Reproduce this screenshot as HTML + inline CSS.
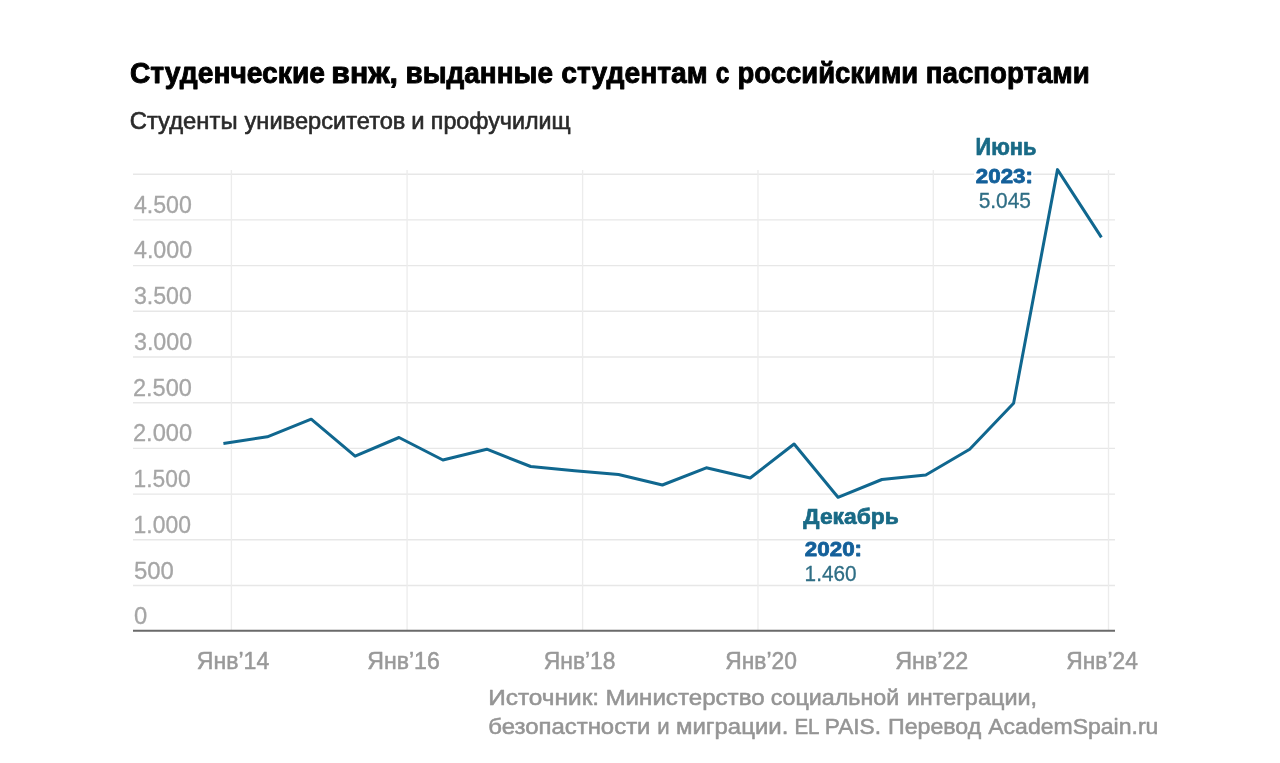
<!DOCTYPE html>
<html lang="ru">
<head>
<meta charset="utf-8">
<title>Студенческие внж, выданные студентам с российскими паспортами</title>
<style>
html,body{margin:0;padding:0;background:#fff;}
body{width:1280px;height:763px;overflow:hidden;font-family:"Liberation Sans",sans-serif;}
svg{display:block;}
text{font-family:"Liberation Sans",sans-serif;stroke-linejoin:round;}
.grid line{stroke:#e7e7e7;stroke-width:1.4;}
.grid line.v{stroke:#ececec;stroke-width:1.3;}
.ylab text{fill:#a6a6a6;stroke:#a6a6a6;stroke-width:0.3px;}
.xlab text{fill:#999;stroke:#999;stroke-width:0.5px;}
.src text{fill:#959595;stroke:#959595;stroke-width:0.55px;}
</style>
</head>
<body>
<svg width="1280" height="763" viewBox="0 0 1280 763">
<rect width="1280" height="763" fill="#fff"/>
<text y="82.5" font-size="28.6" font-weight="700" fill="#000" stroke="#000" stroke-width="0.9"><tspan x="129.96" textLength="194.98" lengthAdjust="spacingAndGlyphs">Студенческие</tspan> <tspan x="331.33" textLength="66.71" lengthAdjust="spacingAndGlyphs">внж,</tspan> <tspan x="405.50" textLength="147.44" lengthAdjust="spacingAndGlyphs">выданные</tspan> <tspan x="561.21" textLength="146.48" lengthAdjust="spacingAndGlyphs">студентам</tspan> <tspan x="715.84" textLength="13.62" lengthAdjust="spacingAndGlyphs">с</tspan> <tspan x="737.49" textLength="180.78" lengthAdjust="spacingAndGlyphs">российскими</tspan> <tspan x="925.81" textLength="164.06" lengthAdjust="spacingAndGlyphs">паспортами</tspan></text>
<text y="129.4" font-size="23" fill="#2a2a2a" stroke="#2a2a2a" stroke-width="0.6"><tspan x="129.76" textLength="107.77" lengthAdjust="spacingAndGlyphs">Студенты</tspan> <tspan x="244.55" textLength="160.87" lengthAdjust="spacingAndGlyphs">университетов</tspan> <tspan x="411.26" textLength="13.31" lengthAdjust="spacingAndGlyphs">и</tspan> <tspan x="430.79" textLength="139.83" lengthAdjust="spacingAndGlyphs">профучилищ</tspan></text>
<g class="grid"><line x1="133" x2="1115" y1="174.2" y2="174.2"/><line x1="133" x2="1115" y1="219.9" y2="219.9"/><line x1="133" x2="1115" y1="265.6" y2="265.6"/><line x1="133" x2="1115" y1="311.3" y2="311.3"/><line x1="133" x2="1115" y1="357.0" y2="357.0"/><line x1="133" x2="1115" y1="402.7" y2="402.7"/><line x1="133" x2="1115" y1="448.4" y2="448.4"/><line x1="133" x2="1115" y1="494.1" y2="494.1"/><line x1="133" x2="1115" y1="539.8" y2="539.8"/><line x1="133" x2="1115" y1="585.5" y2="585.5"/><line class="v" x1="231.4" x2="231.4" y1="170" y2="631"/><line class="v" x1="407.1" x2="407.1" y1="170" y2="631"/><line class="v" x1="582.6" x2="582.6" y1="170" y2="631"/><line class="v" x1="758.0" x2="758.0" y1="170" y2="631"/><line class="v" x1="933.3" x2="933.3" y1="170" y2="631"/><line class="v" x1="1108.5" x2="1108.5" y1="170" y2="631"/></g>
<g class="ylab"><text x="133.95" y="212.9" font-size="24" textLength="57.94" lengthAdjust="spacingAndGlyphs">4.500</text><text x="133.95" y="257.8" font-size="24" textLength="58.24" lengthAdjust="spacingAndGlyphs">4.000</text><text x="133.95" y="304.3" font-size="24" textLength="57.94" lengthAdjust="spacingAndGlyphs">3.500</text><text x="133.95" y="350.0" font-size="24" textLength="58.24" lengthAdjust="spacingAndGlyphs">3.000</text><text x="132.97" y="395.7" font-size="24" textLength="58.92" lengthAdjust="spacingAndGlyphs">2.500</text><text x="132.96" y="441.4" font-size="24" textLength="59.23" lengthAdjust="spacingAndGlyphs">2.000</text><text x="133.60" y="487.1" font-size="24" textLength="56.98" lengthAdjust="spacingAndGlyphs">1.500</text><text x="133.60" y="532.8" font-size="24" textLength="57.29" lengthAdjust="spacingAndGlyphs">1.000</text><text x="133.95" y="578.5" font-size="24" textLength="39.95" lengthAdjust="spacingAndGlyphs">500</text><text x="133.95" y="624.2" font-size="24" textLength="13.24" lengthAdjust="spacingAndGlyphs">0</text></g>
<line x1="133" x2="1115" y1="630.7" y2="630.7" stroke="#6a6a6a" stroke-width="2.1"/>
<polyline points="223.4,443.5 267.3,436.8 311.2,419.2 355.1,456.2 399.0,437.5 442.9,460.0 486.8,449.2 530.7,466.5 574.6,470.8 618.5,474.5 662.4,485.0 706.3,467.8 750.2,478.0 794.1,444.0 838.0,497.3 881.9,479.5 925.8,475.0 969.7,449.2 1013.6,403.2 1057.5,169.6 1101.4,237.4" fill="none" stroke="#10678f" stroke-width="3" stroke-linejoin="round" stroke-linecap="butt"/>
<rect x="974" y="167" width="59" height="19" fill="#fff"/>
<g class="ann"><text x="975.50" y="154.6" font-size="23.0" font-weight="700" textLength="60.78" lengthAdjust="spacingAndGlyphs" fill="#196a86" stroke="#196a86" stroke-width="0.7">Июнь</text><text x="975.80" y="183.3" font-size="21" font-weight="700" textLength="57.12" lengthAdjust="spacingAndGlyphs" fill="#14609a" stroke="#14609a" stroke-width="0.8">2023:</text><text x="978.65" y="208.3" font-size="22.8" textLength="52.32" lengthAdjust="spacingAndGlyphs" fill="#2f6e85" stroke="#2f6e85" stroke-width="0.3">5.045</text><text x="803.35" y="524.4" font-size="22.7" font-weight="700" textLength="95.45" lengthAdjust="spacingAndGlyphs" fill="#196a86" stroke="#196a86" stroke-width="0.7">Декабрь</text><text x="804.80" y="555.8" font-size="20.8" font-weight="700" textLength="57.27" lengthAdjust="spacingAndGlyphs" fill="#14609a" stroke="#14609a" stroke-width="0.8">2020:</text><text x="804.62" y="580.9" font-size="22.3" textLength="51.90" lengthAdjust="spacingAndGlyphs" fill="#2f6e85" stroke="#2f6e85" stroke-width="0.3">1.460</text></g>
<g class="xlab"><text x="196.77" y="669.4" font-size="23.5" textLength="72.55" lengthAdjust="spacingAndGlyphs">Янв’14</text><text x="367.27" y="669.4" font-size="23.5" textLength="72.55" lengthAdjust="spacingAndGlyphs">Янв’16</text><text x="543.78" y="669.4" font-size="23.5" textLength="71.79" lengthAdjust="spacingAndGlyphs">Янв’18</text><text x="725.28" y="669.4" font-size="23.5" textLength="71.54" lengthAdjust="spacingAndGlyphs">Янв’20</text><text x="895.26" y="669.4" font-size="23.5" textLength="73.05" lengthAdjust="spacingAndGlyphs">Янв’22</text><text x="1066.28" y="669.4" font-size="23.5" textLength="71.54" lengthAdjust="spacingAndGlyphs">Янв’24</text></g>
<g class="src">
<text y="704.6" font-size="22.8"><tspan x="488.20" textLength="110.95" lengthAdjust="spacingAndGlyphs">Источник:</tspan> <tspan x="605.47" textLength="159.18" lengthAdjust="spacingAndGlyphs">Министерство</tspan> <tspan x="770.67" textLength="128.55" lengthAdjust="spacingAndGlyphs">социальной</tspan> <tspan x="906.75" textLength="130.35" lengthAdjust="spacingAndGlyphs">интеграции,</tspan></text>
<text y="733.5" font-size="22.8"><tspan x="488.23" textLength="162.27" lengthAdjust="spacingAndGlyphs">безопастности</tspan> <tspan x="657.30" textLength="12.39" lengthAdjust="spacingAndGlyphs">и</tspan> <tspan x="675.97" textLength="112.35" lengthAdjust="spacingAndGlyphs">миграции.</tspan> <tspan x="794.40" textLength="24.42" lengthAdjust="spacingAndGlyphs">EL</tspan> <tspan x="824.78" textLength="56.27" lengthAdjust="spacingAndGlyphs">PAIS.</tspan> <tspan x="888.01" textLength="93.27" lengthAdjust="spacingAndGlyphs">Перевод</tspan> <tspan x="988.27" textLength="170.13" lengthAdjust="spacingAndGlyphs">AcademSpain.ru</tspan></text>
</g>
</svg>
</body>
</html>
